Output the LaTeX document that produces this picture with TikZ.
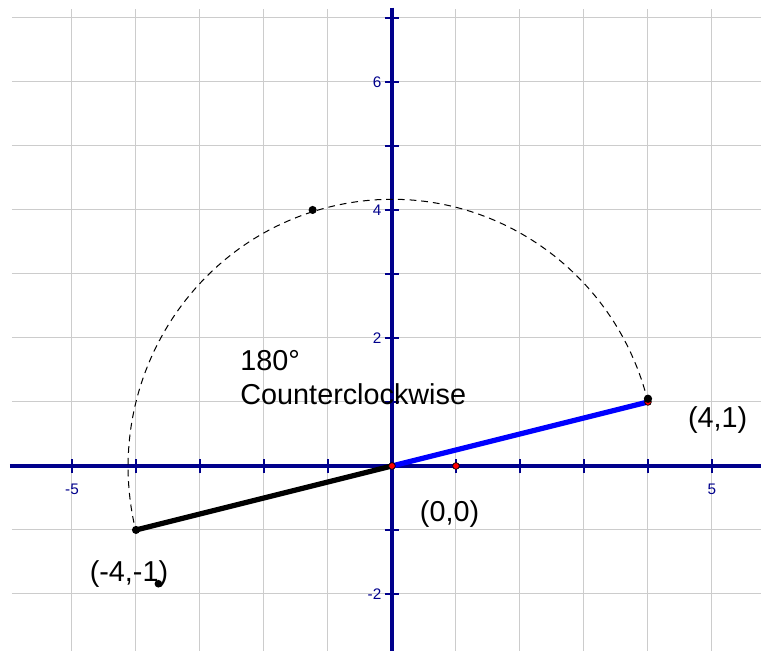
\documentclass[tikz,border=0pt]{standalone}
\usepackage{fontspec}
\setmainfont{Liberation Sans}
\usepackage{tikz}
\definecolor{axisblue}{RGB}{0,0,140}

\begin{document}
\begin{tikzpicture}[
		gridline/.style={gray!40, line width=0.45pt},
		axisline/.style={axisblue, line width=1.9pt},
		tickmark/.style={axisblue, line width=0.9pt},
		ticklabel/.style={axisblue, font=\fontsize{6.8}{7}\selectfont, inner sep=0pt},
		ptlabel/.style={font=\fontsize{12.8}{15}\selectfont, inner sep=0pt},
		rotarc/.style={black, line width=0.45pt, dash pattern=on 3pt off 2.2pt},
		seg/.style={line width=2.3pt},
		reddot/.style={fill=red, draw=black, line width=0.3pt}
	]
		\useasboundingbox (-6.125,-2.891) rectangle (5.766,7.281);
		% grid
		\foreach \y in {-2,...,7}
			\draw[gridline] (-5.94,\y) -- (5.766,\y);
		\foreach \x in {-5,...,5}
			\draw[gridline] (\x,7.14) -- (\x,-2.891);
		% axes
		\draw[axisline] (-5.97,0) -- (5.766,0);
		\draw[axisline] (0,7.16) -- (0,-2.891);
		\foreach \x in {-5,-4,-3,-2,-1,1,2,3,4,5}
			\draw[tickmark] (\x,-0.11) -- (\x,0.11);
		\foreach \y in {-2,-1,1,2,3,4,5,6,7}
			\draw[tickmark] (-0.11,\y) -- (0.11,\y);
		\node[ticklabel] (xm5) at (-5,-0.36) {-5};
		\node[ticklabel] (x5) at (5,-0.36) {5};
		\node[ticklabel, anchor=east] (y6) at (-0.16,6) {6};
		\node[ticklabel, anchor=east] (y4) at (-0.16,4) {4};
		\node[ticklabel, anchor=east] (y2) at (-0.16,2) {2};
		\node[ticklabel, anchor=east] (ym2) at (-0.16,-2) {-2};
		% points and rotation
		\coordinate (O) at (0,0);
		\coordinate (P) at (4,1);
		\coordinate (Q) at (-4,-1);
		\draw[rotarc] (P) arc[start angle=14.04, end angle=194.04, x radius=4.123, y radius=4.18];
		\draw[seg, blue] (O) -- (P);
		\draw[seg, black] (O) -- (Q);
		\node[ptlabel] (lblP) at (5.09,0.72) {(4,1)};
		\node[ptlabel] (lblO) at (0.90,-0.75) {(0,0)};
		\node[ptlabel] (lblQ) at (-4.11,-1.69) {(-4,-1)};
		\node[ptlabel, anchor=west] (angtxt) at (-2.375,1.644) {180°};
		\node[ptlabel, anchor=west] (dirtxt) at (-2.375,1.125) {Counterclockwise};
		\filldraw[reddot] (O) circle (1.5pt);
		\filldraw[reddot] (1,0) circle (1.5pt);
		\filldraw[reddot] (P) circle (1.5pt);
		\fill[black] (4,1.05) circle (1.85pt);
		\fill[black] (Q) circle (1.8pt);
		\fill[black] (-1.24,4) circle (1.8pt);
		\fill[black] (-3.65,-1.84) circle (1.7pt);
	\end{tikzpicture}
\end{document}
